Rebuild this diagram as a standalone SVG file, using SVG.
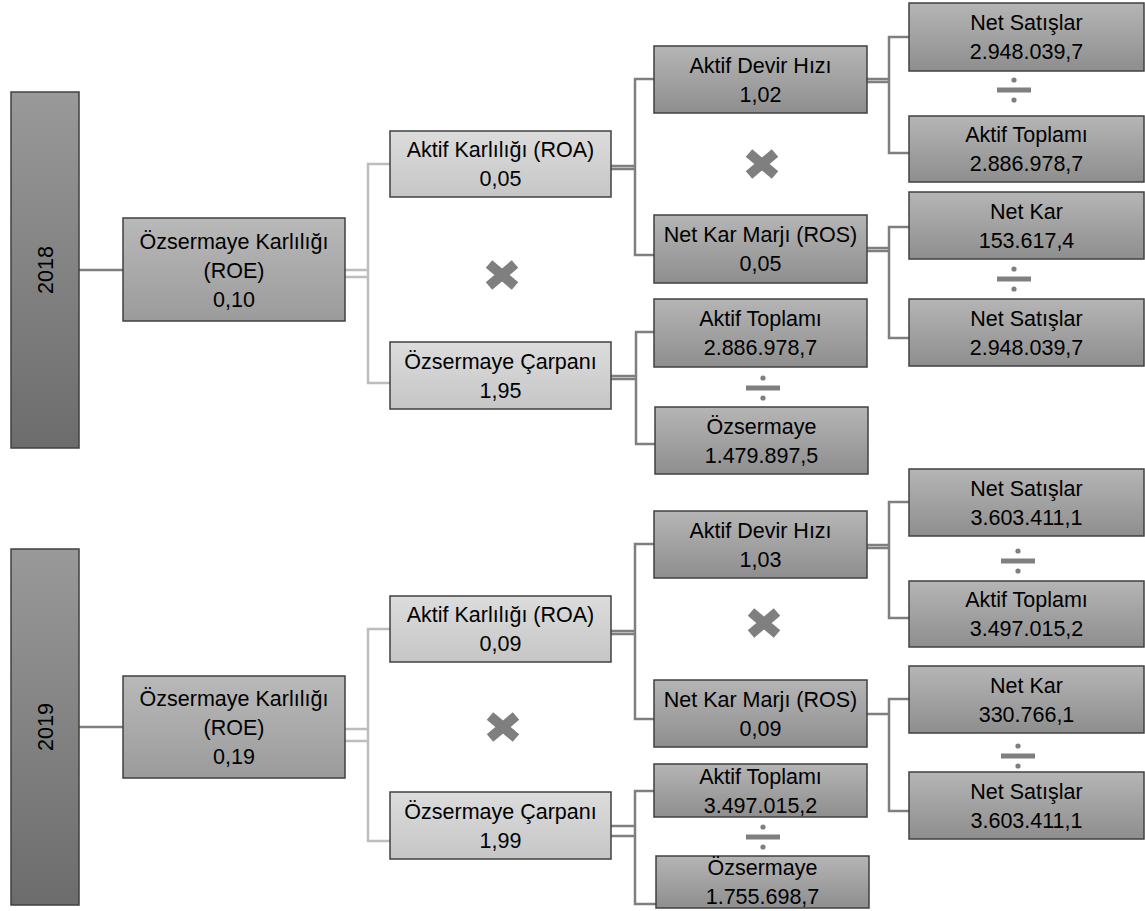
<svg xmlns="http://www.w3.org/2000/svg" width="1145" height="911" viewBox="0 0 1145 911">
<defs>
<linearGradient id="gYear" x1="0" y1="0" x2="0" y2="1"><stop offset="0" stop-color="#999999"/><stop offset="1" stop-color="#6c6c6c"/></linearGradient>
<linearGradient id="gRoe" x1="0" y1="0" x2="0" y2="1"><stop offset="0" stop-color="#b9b9b9"/><stop offset="1" stop-color="#9b9b9b"/></linearGradient>
<linearGradient id="gLight" x1="0" y1="0" x2="0" y2="1"><stop offset="0" stop-color="#dcdcdc"/><stop offset="1" stop-color="#c6c6c6"/></linearGradient>
<linearGradient id="gDark" x1="0" y1="0" x2="0" y2="1"><stop offset="0" stop-color="#b5b5b5"/><stop offset="1" stop-color="#8e8e8e"/></linearGradient>
<g id="times"><path d="M-13,-11 L13,11 M-13,11 L13,-11" stroke="#7f7f7f" stroke-width="10" fill="none"/></g>
<g id="divide"><rect x="-17" y="-2.5" width="34" height="5" fill="#7f7f7f"/><circle cx="0" cy="-10" r="2.6" fill="#7f7f7f"/><circle cx="0" cy="10" r="2.6" fill="#7f7f7f"/></g>
</defs>
<style>
.box{stroke:#404040;stroke-width:1.5}
.year{fill:url(#gYear)}
.roe{fill:url(#gRoe)}
.light{fill:url(#gLight)}
.dark{fill:url(#gDark)}
text{font-family:"Liberation Sans",Arial,sans-serif;font-size:21.5px;fill:#000;text-anchor:middle}
.cl{stroke:#bdbdbd;stroke-width:2.5;fill:none}
.cd{stroke:#7f7f7f;stroke-width:2.5;fill:none}
</style>
<rect width="1145" height="911" fill="#fff"/>

<g id="connectors">
<!-- 2018 -->
<path class="cd" d="M79,270 H123"/>
<path class="cl" d="M345,270 H368 M345,277 H368 M390,164 H368 V383 H390"/>
<path class="cd" d="M611,166 H635 M611,169 H635 M654,79 H635 V255 H654"/>
<path class="cd" d="M611,376 H636 M611,379 H636 M654,332 H636 V444 H655"/>
<path class="cd" d="M867,79 H889 M867,82 H889 M909,37 H889 V153 H909"/>
<path class="cd" d="M867,248 H889 M867,251 H889 M909,227 H889 V338 H909"/>
<!-- 2019 -->
<path class="cd" d="M79,727 H123"/>
<path class="cl" d="M345,729 H368 M345,741 H368 M390,629 H368 V841 H390"/>
<path class="cd" d="M611,631 H635 M611,634 H635 M654,544 H635 V719 H654"/>
<path class="cd" d="M611,826 H635 M611,836 H635 M654,791 H635 V904 H656"/>
<path class="cd" d="M867,545 H889 M867,548 H889 M909,502 H889 V618 H909"/>
<path class="cd" d="M867,714 H889 M909,699 H889 V811 H909"/>
</g>

<g id="year2018"><rect class="box year" x="11" y="92" width="68" height="356"/><text transform="translate(53,270) rotate(-90)">2018</text></g>
<g id="roe2018"><rect class="box roe" x="123" y="218" width="222" height="103"/><text x="234" y="249">Özsermaye Karlılığı</text><text x="234" y="278">(ROE)</text><text x="234" y="307">0,10</text></g>
<g id="roa2018"><rect class="box light" x="390" y="131" width="221" height="66"/><text x="500.5" y="157">Aktif Karlılığı (ROA)</text><text x="500.5" y="186">0,05</text></g>
<g id="carpan2018"><rect class="box light" x="390" y="342" width="221" height="67"/><text x="500.5" y="368.5">Özsermaye Çarpanı</text><text x="500.5" y="397.5">1,95</text></g>
<g id="adh2018"><rect class="box dark" x="654" y="46" width="213" height="67"/><text x="760.5" y="72.5">Aktif Devir Hızı</text><text x="760.5" y="101.5">1,02</text></g>
<g id="nkm2018"><rect class="box dark" x="654" y="215" width="213" height="68"/><text x="760.5" y="242">Net Kar Marjı (ROS)</text><text x="760.5" y="271">0,05</text></g>
<g id="atm2018"><rect class="box dark" x="654" y="299" width="213" height="68"/><text x="760.5" y="326">Aktif Toplamı</text><text x="760.5" y="355">2.886.978,7</text></g>
<g id="oz2018"><rect class="box dark" x="655" y="407" width="213" height="67"/><text x="761.5" y="433.5">Özsermaye</text><text x="761.5" y="462.5">1.479.897,5</text></g>
<g id="ns2018a"><rect class="box dark" x="909" y="3" width="235" height="68"/><text x="1026.5" y="30">Net Satışlar</text><text x="1026.5" y="59">2.948.039,7</text></g>
<g id="atr2018"><rect class="box dark" x="909" y="116" width="235" height="66"/><text x="1026.5" y="142">Aktif Toplamı</text><text x="1026.5" y="171">2.886.978,7</text></g>
<g id="nk2018"><rect class="box dark" x="909" y="192" width="235" height="67"/><text x="1026.5" y="218.5">Net Kar</text><text x="1026.5" y="247.5">153.617,4</text></g>
<g id="ns2018b"><rect class="box dark" x="909" y="299" width="235" height="67"/><text x="1026.5" y="325.5">Net Satışlar</text><text x="1026.5" y="354.5">2.948.039,7</text></g>

<g id="year2019"><rect class="box year" x="11" y="549" width="68" height="356"/><text transform="translate(53,727) rotate(-90)">2019</text></g>
<g id="roe2019"><rect class="box roe" x="123" y="676" width="222" height="102"/><text x="234" y="706">Özsermaye Karlılığı</text><text x="234" y="735">(ROE)</text><text x="234" y="764">0,19</text></g>
<g id="roa2019"><rect class="box light" x="390" y="596" width="221" height="66"/><text x="500.5" y="622">Aktif Karlılığı (ROA)</text><text x="500.5" y="651">0,09</text></g>
<g id="carpan2019"><rect class="box light" x="390" y="792" width="221" height="67"/><text x="500.5" y="818.5">Özsermaye Çarpanı</text><text x="500.5" y="847.5">1,99</text></g>
<g id="adh2019"><rect class="box dark" x="654" y="511" width="213" height="67"/><text x="760.5" y="537.5">Aktif Devir Hızı</text><text x="760.5" y="566.5">1,03</text></g>
<g id="nkm2019"><rect class="box dark" x="654" y="680" width="213" height="67"/><text x="760.5" y="706.5">Net Kar Marjı (ROS)</text><text x="760.5" y="735.5">0,09</text></g>
<g id="atm2019"><rect class="box dark" x="654" y="764" width="213" height="53"/><text x="760.5" y="783.5">Aktif Toplamı</text><text x="760.5" y="812.5">3.497.015,2</text></g>
<g id="oz2019"><rect class="box dark" x="656" y="856" width="213" height="52"/><text x="762.5" y="875">Özsermaye</text><text x="762.5" y="904">1.755.698,7</text></g>
<g id="ns2019a"><rect class="box dark" x="909" y="469" width="235" height="67"/><text x="1026.5" y="495.5">Net Satışlar</text><text x="1026.5" y="524.5">3.603.411,1</text></g>
<g id="atr2019"><rect class="box dark" x="909" y="581" width="235" height="66"/><text x="1026.5" y="607">Aktif Toplamı</text><text x="1026.5" y="636">3.497.015,2</text></g>
<g id="nk2019"><rect class="box dark" x="909" y="666" width="235" height="67"/><text x="1026.5" y="692.5">Net Kar</text><text x="1026.5" y="721.5">330.766,1</text></g>
<g id="ns2019b"><rect class="box dark" x="909" y="772" width="235" height="67"/><text x="1026.5" y="798.5">Net Satışlar</text><text x="1026.5" y="827.5">3.603.411,1</text></g>

<g id="operators">
<use href="#times" x="502" y="275"/>
<use href="#times" x="762" y="164"/>
<use href="#times" x="503" y="727"/>
<use href="#times" x="764" y="623"/>
<use href="#divide" x="1014" y="90"/>
<use href="#divide" x="1014" y="279"/>
<use href="#divide" x="763" y="388"/>
<use href="#divide" x="1018" y="561"/>
<use href="#divide" x="1018" y="756"/>
<use href="#divide" x="763" y="837"/>
</g>
</svg>
